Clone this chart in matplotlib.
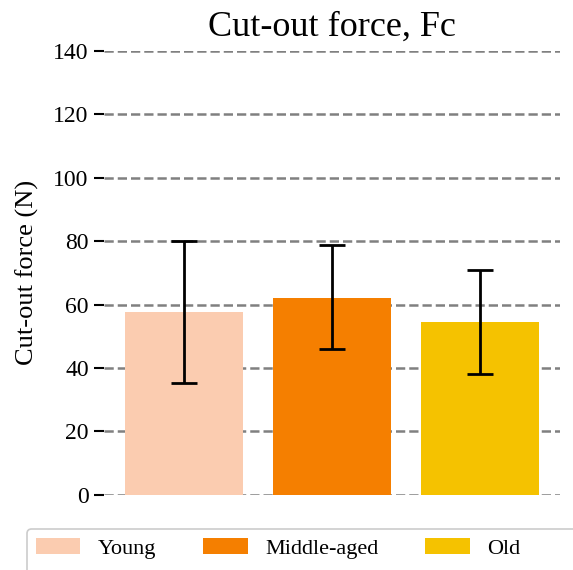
import numpy as np
import matplotlib.pyplot as plt
from matplotlib.patches import FancyBboxPatch

# values
groups = ["Young", "Middle-aged", "Old"]
means = [57.7, 62.1, 54.4]
err_low = [35.4, 45.9, 38.0]
err_high = [80.0, 78.8, 71.0]
colors = ["#FBCCB0", "#F57F00", "#F5C200"]
yticks = [0, 20, 40, 60, 80, 100, 120, 140]

plt.rcParams["font.family"] = ["Liberation Serif", "DejaVu Serif"]

W, H = 573, 570
fig = plt.figure(figsize=(W / 100, H / 100), dpi=100)
ax = fig.add_axes([0.1815, 0.132, 0.7955, 0.7785])

x = np.arange(len(groups))
means = np.array(means)
yerr = np.array([means - np.array(err_low), np.array(err_high) - means])

bars = ax.bar(x, means, width=0.8, color=colors, label=groups, zorder=2)
ax.errorbar(x, means, yerr=yerr, fmt="none", ecolor="black", elinewidth=2,
            capsize=9.5, capthick=2, zorder=3)

ax.set_ylim(0, 140)
ax.set_yticks(yticks)
ax.set_xticks([])
ax.yaxis.grid(True, linestyle="--", color="gray", linewidth=1.8, zorder=0)
ax.set_axisbelow(True)
for s in ax.spines.values():
    s.set_visible(False)
ax.tick_params(axis="y", labelsize=17, length=7, width=1.5, pad=4)

ax.set_title("Cut-out force, Fc", fontsize=26, pad=11)
ax.set_ylabel("Cut-out force (N)", fontsize=19, labelpad=10)

# legend entries, frame drawn separately because it runs off the right edge
leg = fig.legend(bars, groups, loc="upper left",
                 bbox_to_anchor=(27 / W, 1 - 529 / H),
                 bbox_transform=fig.transFigure, borderaxespad=0,
                 ncol=3, fontsize=16, frameon=False, columnspacing=2.1,
                 handlelength=2.0, handleheight=0.77, borderpad=0.4)
frame_top = (H - 529) / H
frame = FancyBboxPatch((27 / W, -0.05), 1.2, frame_top + 0.05,
                       boxstyle="round,pad=0,rounding_size=0.008",
                       transform=fig.transFigure, facecolor="white",
                       edgecolor="0.8", linewidth=1.2, zorder=0)
fig.patches.append(frame)

fig.savefig("out.png", dpi=100)
